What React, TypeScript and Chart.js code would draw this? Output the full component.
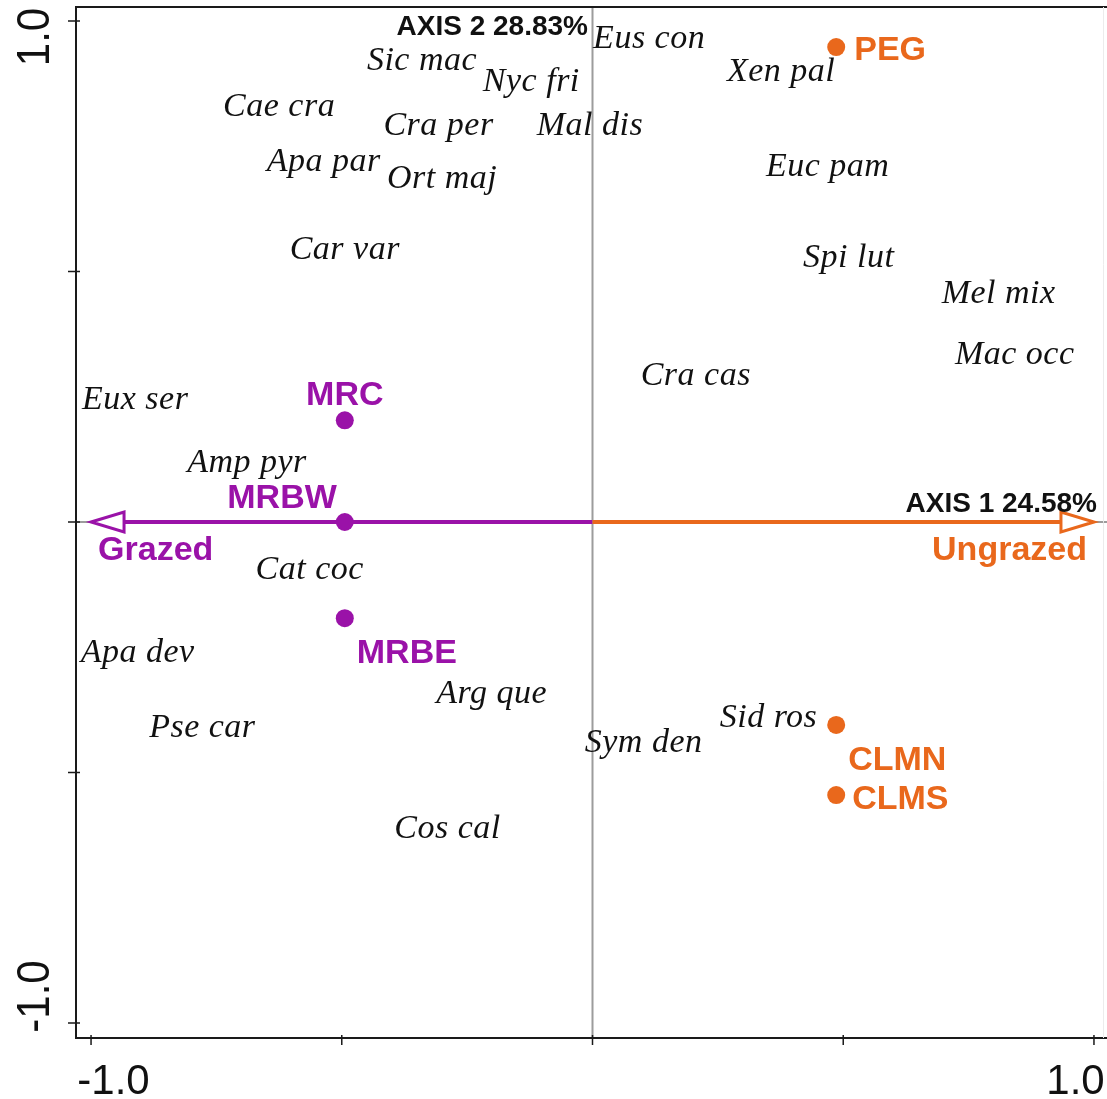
import React, { useEffect, useRef } from "react";
import { Chart, registerables } from "chart.js";

Chart.register(...registerables);

// Species scores (axis 1, axis 2)
const speciesNames = [
  "Sic mac", "Eus con", "Nyc fri", "Xen pal", "Cae cra", "Cra per", "Mal dis", "Apa par",
  "Ort maj", "Euc pam", "Car var", "Spi lut", "Mel mix", "Mac occ", "Cra cas", "Eux ser",
  "Amp pyr", "Cat coc", "Apa dev", "Arg que", "Pse car", "Sid ros", "Sym den", "Cos cal",
];
const speciesAxis1 = [
  -0.34, 0.113, -0.122, 0.376, -0.625, -0.307, -0.005, -0.536,
  -0.3, 0.469, -0.494, 0.511, 0.81, 0.842, 0.206, -0.912,
  -0.689, -0.564, -0.907, -0.201, -0.778, 0.351, 0.102, -0.289,
];
const speciesAxis2 = [
  0.924, 0.967, 0.882, 0.902, 0.832, 0.795, 0.795, 0.723,
  0.689, 0.713, 0.547, 0.531, 0.458, 0.337, 0.295, 0.248,
  0.121, -0.092, -0.257, -0.34, -0.407, -0.387, -0.437, -0.61,
];

// Site scores
const grazedSites = ["MRC", "MRBW", "MRBE"];
const grazedAxis1 = [-0.494, -0.494, -0.494];
const grazedAxis2 = [0.203, 0.0, -0.192];

const ungrazedSites = ["PEG", "CLMN", "CLMS"];
const ungrazedAxis1 = [0.486, 0.486, 0.486];
const ungrazedAxis2 = [0.948, -0.405, -0.545];

// Treatment vectors
const treatmentNames = ["Grazed", "Ungrazed"];
const treatmentAxis1 = [-1, 1];
const treatmentAxis2 = [0, 0];

const axisTitles = ["AXIS 1 24.58%", "AXIS 2 28.83%"];
const tickValues = [-1, -0.5, 0, 0.5, 1];
const labelledTicks = [-1, 1];
const labelledTickText = ["-1.0", "1.0"];

const PURPLE = "#9A12A8";
const ORANGE = "#E9681C";

const SERIF = '"Liberation Serif", "Times New Roman", serif';
const SANS = '"Liberation Sans", Arial, sans-serif';

// label placement (pixel offsets from the point, text alignment)
const grazedLabelStyle = [
  { dx: 0, dy: -27.5, align: "center" },
  { dx: -8, dy: -26.5, align: "right" },
  { dx: 12, dy: 32.5, align: "left" },
];
const ungrazedLabelStyle = [
  { dx: 18, dy: 0.5, align: "left" },
  { dx: 12, dy: 32.5, align: "left" },
  { dx: 16, dy: 2, align: "left" },
];
const treatmentLabelStyle = [
  { dx: 7, dy: 26, align: "left", color: PURPLE },
  { dx: -7, dy: 26, align: "right", color: ORANGE },
];

function textAtCenter(
  ctx: CanvasRenderingContext2D,
  text: string,
  x: number,
  yCenter: number,
  font: string,
  size: number,
  capRatio: number,
  align: CanvasTextAlign,
  color: string,
  spacing = "0px"
) {
  ctx.font = font;
  ctx.fillStyle = color;
  ctx.textAlign = align;
  ctx.textBaseline = "alphabetic";
  (ctx as any).letterSpacing = spacing;
  ctx.fillText(text, x, yCenter + (size * capRatio) / 2);
  (ctx as any).letterSpacing = "0px";
}

const ordinationOverlay = {
  id: "ordinationOverlay",
  beforeDatasetsDraw(chart: any) {
    const { ctx, chartArea: a, scales } = chart;
    const xs = scales.x;
    const ys = scales.y;
    const x0 = xs.getPixelForValue(0);
    const y0 = ys.getPixelForValue(0);
    ctx.save();
    // zero lines
    ctx.strokeStyle = "#9c9c9c";
    ctx.lineWidth = 2;
    ctx.beginPath();
    ctx.moveTo(x0, a.top);
    ctx.lineTo(x0, a.bottom);
    ctx.moveTo(a.left, y0);
    ctx.lineTo(a.right, y0);
    ctx.stroke();

    // treatment arrows with hollow heads
    const colors = [PURPLE, ORANGE];
    treatmentNames.forEach((_, i) => {
      const tx = xs.getPixelForValue(treatmentAxis1[i]);
      const ty = ys.getPixelForValue(treatmentAxis2[i]);
      const dx = tx - x0;
      const dy = ty - y0;
      const len = Math.hypot(dx, dy);
      const ux = dx / len;
      const uy = dy / len;
      const headLen = 33;
      const headHalf = 10;
      const bx = tx - ux * headLen;
      const by = ty - uy * headLen;
      ctx.strokeStyle = colors[i];
      ctx.lineWidth = 4;
      ctx.lineCap = "butt";
      ctx.beginPath();
      ctx.moveTo(x0, y0);
      ctx.lineTo(bx, by);
      ctx.stroke();
      ctx.lineWidth = 3;
      ctx.lineJoin = "miter";
      ctx.beginPath();
      ctx.moveTo(tx, ty);
      ctx.lineTo(bx - uy * headHalf, by + ux * headHalf);
      ctx.lineTo(bx + uy * headHalf, by - ux * headHalf);
      ctx.closePath();
      ctx.fillStyle = "#ffffff";
      ctx.fill();
      ctx.stroke();
    });
    ctx.restore();
  },
  afterDatasetsDraw(chart: any) {
    const { ctx, chartArea: a, scales } = chart;
    const xs = scales.x;
    const ys = scales.y;
    ctx.save();

    // frame
    ctx.strokeStyle = "#1a1a1a";
    ctx.lineWidth = 2;
    ctx.beginPath();
    ctx.moveTo(a.right, a.top);
    ctx.lineTo(a.left, a.top);
    ctx.lineTo(a.left, a.bottom);
    ctx.lineTo(a.right, a.bottom);
    ctx.stroke();
    ctx.strokeStyle = "#ececec";
    ctx.lineWidth = 1;
    ctx.beginPath();
    ctx.moveTo(a.right - 3.5, a.top);
    ctx.lineTo(a.right - 3.5, a.bottom);
    ctx.stroke();

    // ticks
    ctx.strokeStyle = "#1a1a1a";
    ctx.lineWidth = 1.5;
    ctx.beginPath();
    tickValues.forEach((v) => {
      const px = xs.getPixelForValue(v);
      ctx.moveTo(px, a.bottom - 3);
      ctx.lineTo(px, a.bottom + 7);
      const py = ys.getPixelForValue(v);
      ctx.moveTo(a.left - 8, py);
      ctx.lineTo(a.left + 4, py);
    });
    ctx.stroke();

    // tick labels, nudged inward at the ends
    const tickSize = 42;
    const xShift = [22.5, -18.5];
    labelledTicks.forEach((v, i) => {
      const px = xs.getPixelForValue(v) + xShift[i];
      textAtCenter(ctx, labelledTickText[i], px, a.bottom + 41, `${tickSize}px ${SANS}`, tickSize, 0.716, "center", "#111");
    });
    const yShift = [16, -26.5];
    labelledTicks.forEach((v, i) => {
      const py = ys.getPixelForValue(v);
      const shift = v > 0 ? yShift[0] : yShift[1];
      ctx.save();
      ctx.translate(49, py + shift);
      ctx.rotate(-Math.PI / 2);
      ctx.scale(1, 1.12);
      ctx.font = `${tickSize}px ${SANS}`;
      ctx.fillStyle = "#111";
      ctx.textAlign = "center";
      ctx.textBaseline = "alphabetic";
      ctx.fillText(labelledTickText[i], 0, 0);
      ctx.restore();
    });

    // species labels
    const spSize = 34;
    speciesNames.forEach((name, i) => {
      const px = xs.getPixelForValue(speciesAxis1[i]);
      const py = ys.getPixelForValue(speciesAxis2[i]);
      textAtCenter(ctx, name, px, py, `italic ${spSize}px ${SERIF}`, spSize, 0.64, "center", "#111", "0.5px");
    });

    // site labels
    const siteSize = 34;
    grazedSites.forEach((name, i) => {
      const s = grazedLabelStyle[i];
      const px = xs.getPixelForValue(grazedAxis1[i]) + s.dx;
      const py = ys.getPixelForValue(grazedAxis2[i]) + s.dy;
      textAtCenter(ctx, name, px, py, `bold ${siteSize}px ${SANS}`, siteSize, 0.716, s.align as CanvasTextAlign, PURPLE);
    });
    ungrazedSites.forEach((name, i) => {
      const s = ungrazedLabelStyle[i];
      const px = xs.getPixelForValue(ungrazedAxis1[i]) + s.dx;
      const py = ys.getPixelForValue(ungrazedAxis2[i]) + s.dy;
      textAtCenter(ctx, name, px, py, `bold ${siteSize}px ${SANS}`, siteSize, 0.716, s.align as CanvasTextAlign, ORANGE);
    });

    // treatment labels
    treatmentNames.forEach((name, i) => {
      const s = treatmentLabelStyle[i];
      const px = xs.getPixelForValue(treatmentAxis1[i]) + s.dx;
      const py = ys.getPixelForValue(treatmentAxis2[i]) + s.dy;
      textAtCenter(ctx, name, px, py, `bold ${siteSize}px ${SANS}`, siteSize, 0.716, s.align as CanvasTextAlign, s.color);
    });

    // axis titles
    const titleSize = 28;
    textAtCenter(
      ctx,
      axisTitles[0],
      xs.getPixelForValue(1) + 3,
      ys.getPixelForValue(0) - 20,
      `bold ${titleSize}px ${SANS}`,
      titleSize,
      0.716,
      "right",
      "#111"
    );
    textAtCenter(
      ctx,
      axisTitles[1],
      xs.getPixelForValue(0) - 4.5,
      ys.getPixelForValue(1) + 4,
      `bold ${titleSize}px ${SANS}`,
      titleSize,
      0.716,
      "right",
      "#111"
    );
    ctx.restore();
  },
};

export default function App() {
  const canvasRef = useRef<HTMLCanvasElement | null>(null);

  useEffect(() => {
    const canvas = canvasRef.current;
    if (!canvas) return;
    const chart = new Chart(canvas, {
      type: "scatter",
      data: {
        datasets: [
          {
            label: "Grazed sites",
            data: grazedAxis1.map((x, i) => ({ x, y: grazedAxis2[i] })),
            backgroundColor: PURPLE,
            borderWidth: 0,
            pointRadius: 9,
          },
          {
            label: "Ungrazed sites",
            data: ungrazedAxis1.map((x, i) => ({ x, y: ungrazedAxis2[i] })),
            backgroundColor: ORANGE,
            borderWidth: 0,
            pointRadius: 9,
          },
        ],
      },
      options: {
        animation: false,
        responsive: false,
        devicePixelRatio: 1,
        layout: { autoPadding: false, padding: { left: 76, top: 7, right: 0, bottom: 61 } },
        plugins: { legend: { display: false }, tooltip: { enabled: false } },
        scales: {
          x: { type: "linear", min: -1.03, max: 1.026, display: false },
          y: { type: "linear", min: -1.03, max: 1.028, display: false },
        },
      },
      plugins: [ordinationOverlay],
    });
    return () => chart.destroy();
  }, []);

  return (
    <div style={{ position: "absolute", left: 0, top: 0, width: 1107, height: 1099, background: "#ffffff" }}>
      <canvas ref={canvasRef} width={1107} height={1099} style={{ display: "block" }} />
    </div>
  );
}
